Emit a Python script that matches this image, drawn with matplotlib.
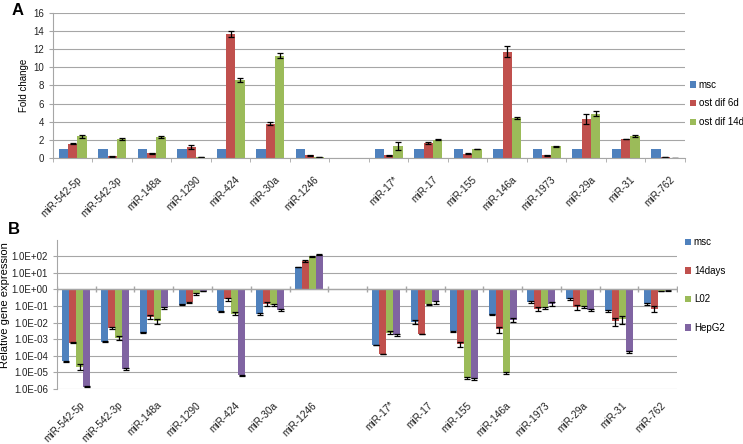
import numpy as np
import matplotlib as mpl
mpl.use('Agg')
import matplotlib.pyplot as plt
from matplotlib.transforms import ScaledTranslation

# categories (None = empty gap slot)
mirs = ['miR-542-5p', 'miR-542-3p', 'miR-148a', 'miR-1290', 'miR-424', 'miR-30a',
        'miR-1246', None, 'miR-17*', 'miR-17', 'miR-155', 'miR-146a', 'miR-1973',
        'miR-29a', 'miR-31', 'miR-762']

# panel A - fold change
a_names = ['msc', 'ost dif 6d', 'ost dif 14d']
a_msc = [1, 1, 1, 1, 1, 1, 1, 1, 1, 1, 1, 1, 1, 1, 1]
a_6d = [1.6, 0.2, 0.55, 1.2, 13.7, 3.8, 0.3, 0.3, 1.7, 0.5, 11.7, 0.3, 4.3, 2.1, 0.1]
a_14d = [2.4, 2.1, 2.3, 0.1, 8.6, 11.3, 0.1, 1.3, 2.0, 1.0, 4.4, 1.3, 4.9, 2.45, 0.05]
a_6d_err = [0.05, 0.03, 0.05, 0.2, 0.35, 0.12, 0.03, 0.03, 0.1, 0.03, 0.6, 0.03, 0.6, 0.05, 0.01]
a_14d_err = [0.15, 0.15, 0.1, 0.02, 0.25, 0.25, 0.02, 0.45, 0.05, 0.03, 0.1, 0.03, 0.3, 0.1, 0.01]

# panel B - relative gene expression (log scale)
b_names = ['msc', '14days', 'L02', 'HepG2']
b_msc = [4.6e-5, 7e-4, 2.5e-3, 0.12, 0.048, 0.033, 22, 4.4e-4, 0.011, 3e-3, 0.03, 0.17, 0.28, 0.048, 0.14]
b_14d = [6e-4, 4.8e-3, 2.2e-2, 0.165, 0.25, 0.14, 50, 1.26e-4, 2e-3, 5e-4, 4e-3, 0.07, 0.087, 0.0126, 0.07]
b_l02 = [2.2e-5, 1.2e-3, 1.2e-2, 0.52, 0.035, 0.115, 100, 2.5e-3, 0.13, 4.6e-6, 9e-6, 0.08, 0.087, 0.017, 0.8]
b_hep = [1.4e-6, 1.6e-5, 8e-2, 0.8, 6.6e-6, 0.06, 126, 1.8e-3, 0.17, 3.8e-6, 0.015, 0.14, 0.058, 1.7e-4, 0.87]
b_msc_err = [5e-6, 7e-5, 3e-4, 0.01, 0.005, 0.003, 1, 0, 0.003, 3e-4, 3e-3, 0.02, 0.04, 0.006, 0.02]
b_14d_err = [5e-5, 5e-4, 0.006, 0.015, 0.05, 0.04, 5, 0, 0, 1.5e-4, 1.5e-3, 0.02, 0.03, 0.006, 0.025]
b_l02_err = [8e-6, 3e-4, 0.004, 0.05, 0.008, 0.015, 5, 4e-4, 0.01, 4e-7, 1e-6, 0.01, 0.01, 0.009, 0.05]
b_hep_err = [1.5e-7, 2e-6, 0.01, 0.05, 7e-7, 0.008, 10, 2e-4, 0.04, 5e-7, 0.004, 0.04, 0.005, 2e-5, 0.05]
b_yticks = [1e-6, 1e-5, 1e-4, 1e-3, 1e-2, 1e-1, 1e0, 1e1, 1e2]
b_yticklabels = ['1.0E-06', '1.0E-05', '1.0E-04', '1.0E-03', '1.0E-02', '1.0E-01',
                 '1.0E+00', '1.0E+01', '1.0E+02']

colors = ['#4F81BD', '#C0504D', '#9BBB59', '#8064A2']
grid_c = '#A6A6A6'

mpl.rcParams['font.family'] = ['Liberation Sans', 'DejaVu Sans']

fig = plt.figure(figsize=(7.43, 4.44), dpi=100)

# slot positions of real categories
xs = np.array([i for i, m in enumerate(mirs) if m is not None])
labels = [m for m in mirs if m is not None]


def style_axes(ax, pad, shift):
    ax.set_xlim(-0.5, len(mirs) - 0.5)
    for s in ['top', 'right']:
        ax.spines[s].set_visible(False)
    ax.spines['left'].set_color(grid_c)
    ax.spines['bottom'].set_color(grid_c)
    ax.yaxis.grid(True, color=grid_c, linewidth=0.8)
    ax.set_axisbelow(True)
    ax.tick_params(axis='y', colors=grid_c, length=3, labelcolor='#222222', labelsize=7)
    ax.set_xticks(xs)
    ax.set_xticklabels(labels, rotation=45, ha='right', rotation_mode='anchor',
                       fontsize=7.2, color='#222222')
    ax.tick_params(axis='x', which='major', length=0, pad=pad)
    ax.set_xticks(np.arange(-0.5, len(mirs)), minor=True)
    ax.tick_params(axis='x', which='minor', length=3, colors=grid_c)
    # nudge the slanted labels a bit to the right, like the original
    off = ScaledTranslation(shift / 72, 0, fig.dpi_scale_trans)
    for lab in ax.get_xticklabels():
        lab.set_transform(lab.get_transform() + off)


leg_kw = dict(loc='center left', frameon=False, fontsize=7, borderpad=0, borderaxespad=0,
              handlelength=0.65, handleheight=0.65, handletextpad=0.25)

# 1 - fold change
ax1 = fig.add_axes([0.0713, 0.644, 0.8506, 0.327])
w = 0.235
series_a = [(a_msc, None), (a_6d, a_6d_err), (a_14d, a_14d_err)]
for k, (vals, err) in enumerate(series_a):
    ax1.bar(xs + (k - 1) * w, vals, w, color=colors[k], label=a_names[k],
            yerr=err, capsize=2, error_kw=dict(elinewidth=0.9, capthick=0.9, ecolor='black'))
ax1.set_ylim(0, 16)
ax1.set_yticks(range(0, 17, 2))
style_axes(ax1, 12, 3)
ax1.set_ylabel('Fold change', fontsize=7, labelpad=3)
ax1.legend(bbox_to_anchor=(1.008, 0.376), labelspacing=0.9, **leg_kw)

# 2 - relative expression
ax2 = fig.add_axes([0.0767, 0.124, 0.8345, 0.3364])
w = 0.18
series_b = [(b_msc, b_msc_err), (b_14d, b_14d_err), (b_l02, b_l02_err), (b_hep, b_hep_err)]
for k, (vals, err) in enumerate(series_b):
    vals = np.array(vals)
    ax2.bar(xs + (k - 1.5) * w, vals - 1, w, bottom=1, color=colors[k], label=b_names[k])
    ax2.errorbar(xs + (k - 1.5) * w, vals, yerr=err, fmt='none', ecolor='black',
                 elinewidth=0.9, capsize=2, capthick=0.9)
ax2.set_yscale('log')
ax2.set_ylim(1e-6, 1e3)
ax2.set_yticks(b_yticks)
ax2.set_yticklabels(b_yticklabels)
ax2.yaxis.set_minor_locator(mpl.ticker.NullLocator())
style_axes(ax2, 8, 2)
ax2.spines['bottom'].set_visible(False)
ax2.tick_params(axis='x', which='minor', length=0)
ax2.axhline(1, color=grid_c, linewidth=1.0)
ax2.plot(np.arange(-0.5, len(mirs)), [1] * (len(mirs) + 1), ls='none', marker='|',
         markersize=4, color=grid_c)
ax2.set_ylabel('Relative gene expression', fontsize=8)
ax2.yaxis.set_label_coords(-0.076, 0.56)
ax2.legend(bbox_to_anchor=(1.013, 0.696), labelspacing=1.9, **leg_kw)

# panel letters
fig.text(0.016, 0.977, 'A', fontsize=12, fontweight='bold', va='center')
fig.text(0.010, 0.482, 'B', fontsize=12, fontweight='bold', va='center')

fig.savefig('out.png', dpi=100)
